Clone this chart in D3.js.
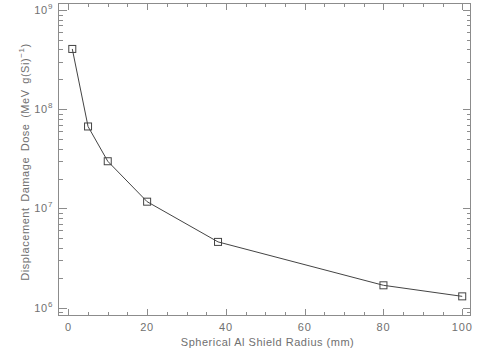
<!DOCTYPE html>
<html>
<head>
<meta charset="utf-8">
<script src="https://cdn.jsdelivr.net/npm/d3@7"></script>
<style>
  html, body { margin: 0; padding: 0; background: #fff; }
  svg { display: block; font-family: "Liberation Sans", "DejaVu Sans", sans-serif; }
  .lbl { fill: #707070; font-size: 11px; }
  .axis path, .axis line { stroke: #8c8c8c; shape-rendering: crispEdges; }
</style>
</head>
<body>
<svg width="478" height="363"></svg>
<script>
(function () {
    'use strict'

    // shield radius (mm) and dose values
    const radius = [1, 5, 10, 20, 38, 80, 100];
    const dose = [4.05e8, 6.7e7, 2.99e7, 1.17e7, 4.6e6, 1.68e6, 1.30e6];

    const xMajor = [0, 20, 40, 60, 80, 100];
    const xMinor = [5, 10, 15, 25, 30, 35, 45, 50, 55, 65, 70, 75, 85, 90, 95];
    const yMajor = [1e6, 1e7, 1e8, 1e9];
    const yExp = ['6', '7', '8', '9'];

    const xTitle = 'Spherical Al Shield Radius (mm)';

    let svg = d3.select('svg'),
        margin = { top: 3.5, right: 7.5, bottom: 48, left: 58.5 },
        width = +svg.attr('width') - margin.left - margin.right,
        height = +svg.attr('height') - margin.top - margin.bottom,
        g = svg.append('g').attr('transform', 'translate(' + margin.left + ',' + margin.top + ')');

    let x = d3.scaleLinear()
        .domain([-2.5, 102.1])
        .range([0, width]);

    let y = d3.scaleLog()
        .domain([Math.pow(10, 5.926), Math.pow(10, 9.0655)])
        .range([height, 0]);

    // minor ticks of the log axis: 2..9 times each decade, inside the domain
    let yMinor = [];
    for (let e = 5; e <= 9; e++)
        for (let k = 2; k <= 9; k++) {
            let v = k * Math.pow(10, e);
            if (v > y.domain()[0] && v < y.domain()[1]) yMinor.push(v);
        }

    function axis(gen, cls, transform, values, size) {
        g.append('g')
            .attr('class', 'axis ' + cls)
            .attr('transform', transform)
            .call(gen.tickValues(values).tickSizeInner(-size).tickSizeOuter(0).tickFormat(''))
            .call(s => s.select('.domain').remove());
    }

    // bottom / top
    axis(d3.axisBottom(x), 'xb', 'translate(0,' + height + ')', xMajor, 6);
    axis(d3.axisBottom(x), 'xb2', 'translate(0,' + height + ')', xMinor, 3);
    axis(d3.axisTop(x), 'xt', 'translate(0,0)', xMajor, 6);
    axis(d3.axisTop(x), 'xt2', 'translate(0,0)', xMinor, 3);
    // left / right
    axis(d3.axisLeft(y), 'yl', 'translate(0,0)', yMajor, 8);
    axis(d3.axisLeft(y), 'yl2', 'translate(0,0)', yMinor, 4);
    axis(d3.axisRight(y), 'yr', 'translate(' + width + ',0)', yMajor, 8);
    axis(d3.axisRight(y), 'yr2', 'translate(' + width + ',0)', yMinor, 4);

    // frame
    g.append('rect')
        .attr('width', width)
        .attr('height', height)
        .attr('fill', 'none')
        .attr('stroke', '#8c8c8c')
        .attr('shape-rendering', 'crispEdges');

    // x tick labels
    g.selectAll('text.xl')
        .data(xMajor)
        .enter()
        .append('text')
        .attr('class', 'lbl xl')
        .attr('x', d => x(d))
        .attr('y', height + 16)
        .attr('text-anchor', 'middle')
        .attr('letter-spacing', '0.8px')
        .text(d => d);

    // y tick labels, 10 with a raised exponent
    let yl = g.selectAll('text.yl')
        .data(yMajor)
        .enter()
        .append('text')
        .attr('class', 'lbl yl')
        .attr('x', -6)
        .attr('y', d => y(d) + 4)
        .attr('text-anchor', 'end');
    yl.append('tspan').attr('letter-spacing', '0.8px').text('10');
    yl.append('tspan')
        .attr('dy', -5)
        .attr('font-size', '8px')
        .text((d, i) => yExp[i]);

    // axis titles
    svg.append('text')
        .attr('class', 'lbl')
        .attr('x', margin.left + x(50) + 2)
        .attr('y', 346)
        .attr('text-anchor', 'middle')
        .attr('font-size', '11.5px')
        .attr('textLength', 173)
        .text(xTitle);

    let yt = svg.append('text')
        .attr('class', 'lbl')
        .attr('transform', 'translate(29,162) rotate(-90)')
        .attr('text-anchor', 'middle')
        .attr('font-size', '11.5px')
        .attr('letter-spacing', '0.55px')
        .attr('word-spacing', '2px');
    yt.append('tspan').text('Displacement Damage Dose (MeV g(Si)');
    yt.append('tspan').attr('dy', -5).attr('font-size', '8px').text('\u22121');
    yt.append('tspan').attr('dy', 5).text(')');

    // data line and square markers
    let pts = radius.map((r, i) => [r, dose[i]]);

    g.append('path')
        .datum(pts)
        .attr('fill', 'none')
        .attr('stroke', '#444')
        .attr('stroke-width', 1)
        .attr('d', d3.line().x(d => x(d[0])).y(d => y(d[1])));

    g.selectAll('rect.pt')
        .data(pts)
        .enter()
        .append('rect')
        .attr('class', 'pt')
        .attr('x', d => x(d[0]) - 3.5)
        .attr('y', d => y(d[1]) - 3.5)
        .attr('width', 7)
        .attr('height', 7)
        .attr('fill', 'none')
        .attr('stroke', '#444')
        .attr('stroke-width', 1);
})();
</script>
</body>
</html>
